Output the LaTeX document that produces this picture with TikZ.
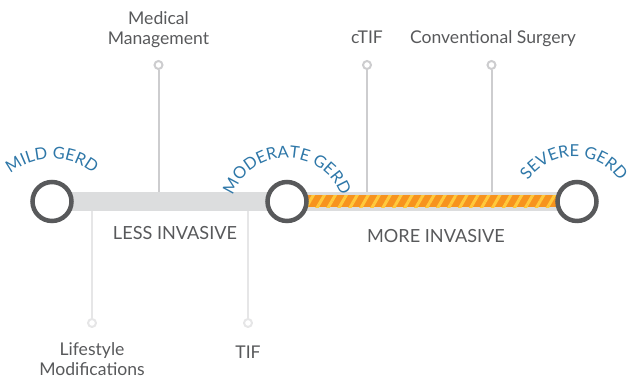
\documentclass[tikz,border=0pt]{standalone}
\usepackage{fontspec}
\setmainfont{Lato}
\usetikzlibrary{decorations.text}
\usetikzlibrary{patterns.meta}
\definecolor{ringgray}{HTML}{58595B}
\definecolor{bargray}{HTML}{DCDDDE}
\definecolor{stemgray}{HTML}{CDCDCF}
\definecolor{stemlight}{HTML}{E6E6E7}
\definecolor{txtgray}{HTML}{58595B}
\definecolor{gerdblue}{HTML}{2E77A8}
\definecolor{invorange}{HTML}{F7931E}
\definecolor{invstripe}{HTML}{FFC93C}
\tikzset{stage/.style={circle,draw=ringgray,line width=0.09cm,fill=white,
   minimum size=0.78cm,inner sep=0pt},
 tipdot/.style={circle,draw=#1,line width=0.04cm,fill=white,
   minimum size=0.16cm,inner sep=0pt},
 stem/.style={draw=#1,line width=0.04cm},
 optext/.style={text=txtgray,font=\fontsize{10}{11.3}\selectfont,align=center},
 bandtext/.style={text=txtgray,font=\fontsize{10.3}{12}\selectfont},
 gerdtext/.style={decorate,decoration={text along path,text align=center,
   text color=gerdblue,text={|\fontsize{9.4}{11}\selectfont|#1}}},
 }

\begin{document}
\begin{tikzpicture}[x=0.02cm,y=0.02cm]
        \useasboundingbox (0,0) rectangle (629,-377);

        % points where the stems meet the bar
        \coordinate (medbar) at (158.5,-192);
        \coordinate (ctifbar) at (367,-192);
        \coordinate (surgbar) at (491.5,-192);
        \coordinate (lifebar) at (92,-211);
        \coordinate (tifbar) at (248,-211);

        \node[tipdot=stemgray] (dotmed) at (158.5,-65) {};
        \node[tipdot=stemgray] (dotctif) at (367,-65) {};
        \node[tipdot=stemgray] (dotsurg) at (491.5,-65) {};
        \node[tipdot=stemlight] (dotlife) at (92,-323) {};
        \node[tipdot=stemlight] (dottif) at (248,-323) {};

        \draw[stem=stemgray] (dotmed) -- (medbar);
        \draw[stem=stemgray] (dotctif) -- (ctifbar);
        \draw[stem=stemgray] (dotsurg) -- (surgbar);
        \draw[stem=stemlight] (dotlife) -- (lifebar);
        \draw[stem=stemlight] (dottif) -- (tifbar);

        % the bar
        \fill[bargray] (52,-192) rectangle (577,-211);
        \fill[invorange] (287,-195.5) rectangle (577,-207.5);
        \fill[pattern={Lines[angle=60,distance=0.19cm,line width=0.06cm]},
          pattern color=invstripe] (287,-195.5) rectangle (577,-207.5);

        \node[stage] (mild) at (52,-201.5) {};
        \node[stage] (moderate) at (287,-201.5) {};
        \node[stage] (severe) at (577,-201.5) {};

        \path[gerdtext={MILD GERD}] ([shift={(52,-226)}]170:67) arc[start angle=170,end angle=10,radius=67];
        \path[gerdtext={MODERATE GERD}] ([shift={(287,-216)}]175:58) arc[start angle=175,end angle=5,radius=58];
        \path[gerdtext={SEVERE GERD}] ([shift={(574,-213)}]170:56) arc[start angle=170,end angle=10,radius=56];

        \node[bandtext,anchor=base] (less) at (175,-240) {LESS INVASIVE};
        \node[bandtext,anchor=base] (more) at (436,-243) {MORE INVASIVE};

        \node[optext] (tmed) at (158.5,-30) {Medical\\Management};
        \node[optext,anchor=base] (tctif) at (367,-44) {cTIF};
        \node[optext,anchor=base] (tsurg) at (493,-44) {Conventional Surgery};
        \node[optext] (tlife) at (92,-359) {Lifestyle\\Modifications};
        \node[optext,anchor=base] (ttif) at (248,-359) {TIF};
\end{tikzpicture}
\end{document}
